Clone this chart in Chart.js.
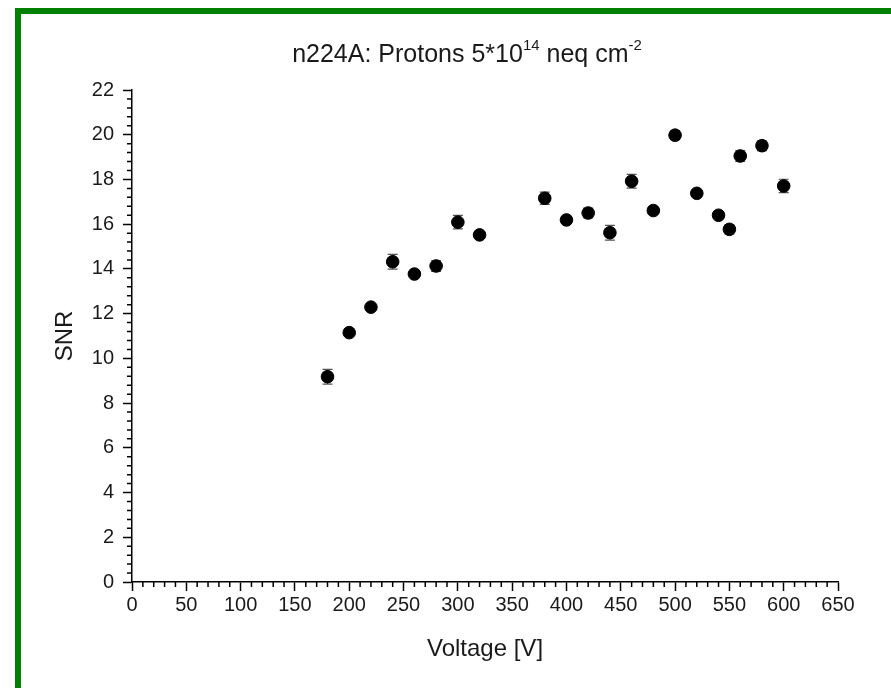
<!DOCTYPE html>
<html>
<head>
<meta charset="utf-8">
<script src="https://cdn.jsdelivr.net/npm/chart.js@4/dist/chart.umd.min.js"></script>
<style>
  html, body { margin: 0; padding: 0; background: #fff; }
  #frame {
    position: absolute; left: 15px; top: 8px; width: 900px; height: 700px;
    border-left: 6px solid #008000; border-top: 6px solid #008000;
  }
  #myChart { position: absolute; left: 0; top: 0; }
</style>
</head>
<body>
<div id="frame"></div>
<canvas id="myChart" width="891" height="688"></canvas>
<script>
// data
var voltages = [180, 200, 220, 240, 260, 280, 300, 320, 380, 400, 420, 440, 460, 480, 500, 520, 540, 550, 560, 580, 600];
var snr      = [9.18, 11.15, 12.29, 14.32, 13.77, 14.13, 16.09, 15.52, 17.16, 16.19, 16.50, 15.62, 17.92, 16.61, 19.98, 17.38, 16.40, 15.77, 19.05, 19.51, 17.71];
var snrErr   = [0.33, 0.10, 0.10, 0.33, 0.12, 0.24, 0.30, 0.15, 0.27, 0.12, 0.22, 0.33, 0.31, 0.12, 0.20, 0.15, 0.15, 0.20, 0.24, 0.22, 0.30];

var xTickStep = 50, xMinorStep = 10;
var yTickStep = 2, yMinorStep = 0.4;

var fontFamily = '"Liberation Sans", Arial, sans-serif';

var points = voltages.map((v, i) => ({ x: v, y: snr[i] }));

const errorBars = {
  id: 'errorBars',
  beforeDatasetsDraw(chart) {
    const ctx = chart.ctx;
    const xs = chart.scales.x, ys = chart.scales.y;
    ctx.save();
    ctx.strokeStyle = '#555';
    ctx.lineWidth = 1.2;
    voltages.forEach((v, i) => {
      const px = xs.getPixelForValue(v);
      const top = ys.getPixelForValue(snr[i] + snrErr[i]);
      const bot = ys.getPixelForValue(snr[i] - snrErr[i]);
      ctx.beginPath();
      ctx.moveTo(px, top); ctx.lineTo(px, bot);
      ctx.moveTo(px - 5, top); ctx.lineTo(px + 5, top);
      ctx.moveTo(px - 5, bot); ctx.lineTo(px + 5, bot);
      ctx.stroke();
    });
    ctx.restore();
  }
};

const minorTicks = {
  id: 'minorTicks',
  afterDraw(chart) {
    const ctx = chart.ctx;
    const xs = chart.scales.x, ys = chart.scales.y;
    ctx.save();
    ctx.strokeStyle = '#000';
    ctx.lineWidth = 1.5;
    ctx.beginPath();
    const nx = Math.round((xs.max - xs.min) / xMinorStep);
    for (let i = 0; i <= nx; i++) {
      const v = xs.min + i * xMinorStep;
      if (v % xTickStep == 0) continue;
      const px = xs.getPixelForValue(v);
      ctx.moveTo(px, xs.top); ctx.lineTo(px, xs.top + 5);
    }
    const ny = Math.round((ys.max - ys.min) / yMinorStep);
    const per = Math.round(yTickStep / yMinorStep);
    for (let i = 0; i <= ny; i++) {
      if (i % per == 0) continue;
      const py = ys.getPixelForValue(ys.min + i * yMinorStep);
      ctx.moveTo(ys.right, py); ctx.lineTo(ys.right - 5, py);
    }
    ctx.stroke();
    ctx.restore();
  }
};

// title with superscripts
const titlePlugin = {
  id: 'supTitle',
  afterDraw(chart) {
    const ctx = chart.ctx;
    const parts = [
      ['n224A: Protons 5*10', 25, 0],
      ['14', 15, 12],
      [' neq cm', 25, 0],
      ['-2', 15, 12]
    ];
    ctx.save();
    ctx.fillStyle = '#1a1a1a';
    ctx.textBaseline = 'alphabetic';
    let total = 0;
    parts.forEach(p => { ctx.font = p[1] + 'px ' + fontFamily; total += ctx.measureText(p[0]).width; });
    const area = chart.chartArea;
    let x = (area.left + area.right) / 2 - 18 - total / 2;
    const base = 62;
    parts.forEach(p => {
      ctx.font = p[1] + 'px ' + fontFamily;
      ctx.fillText(p[0], x, base - p[2]);
      x += ctx.measureText(p[0]).width;
    });
    ctx.restore();
  }
};

new Chart('myChart', {
  type: 'scatter',
  data: {
    datasets: [{
      data: points,
      backgroundColor: '#000',
      borderColor: '#000',
      pointRadius: 6.3,
      pointHoverRadius: 6.3
    }]
  },
  options: {
    responsive: false,
    animation: false,
    layout: { padding: { top: 90, right: 53, left: 0, bottom: 0 } },
    plugins: {
      legend: { display: false },
      title: { display: false },
      tooltip: { enabled: false }
    },
    scales: {
      x: {
        type: 'linear',
        min: 0, max: 650,
        afterFit: axis => { axis.height = 106; },
        border: { display: true, color: '#000', width: 1.5 },
        grid: { drawOnChartArea: false, drawTicks: true, tickLength: 9, tickColor: '#000', tickWidth: 1.5 },
        ticks: { stepSize: xTickStep, color: '#1a1a1a', padding: 2, maxRotation: 0,
                 font: { size: 20, family: fontFamily } },
        title: { display: true, text: 'Voltage [V]', color: '#1a1a1a',
                 font: { size: 24, family: fontFamily }, padding: { top: 0, bottom: 24 } }
      },
      y: {
        min: 0, max: 22,
        afterFit: axis => { axis.width = 132; },
        border: { display: true, color: '#000', width: 1.5 },
        grid: { drawOnChartArea: false, drawTicks: true, tickLength: 9, tickColor: '#000', tickWidth: 1.5 },
        ticks: { stepSize: yTickStep, color: '#1a1a1a', padding: 9,
                 font: { size: 20, family: fontFamily } },
        title: { display: true, text: 'SNR', color: '#1a1a1a',
                 font: { size: 24, family: fontFamily }, padding: { top: 51, bottom: 0 } }
      }
    }
  },
  plugins: [errorBars, minorTicks, titlePlugin]
});
</script>
</body>
</html>
